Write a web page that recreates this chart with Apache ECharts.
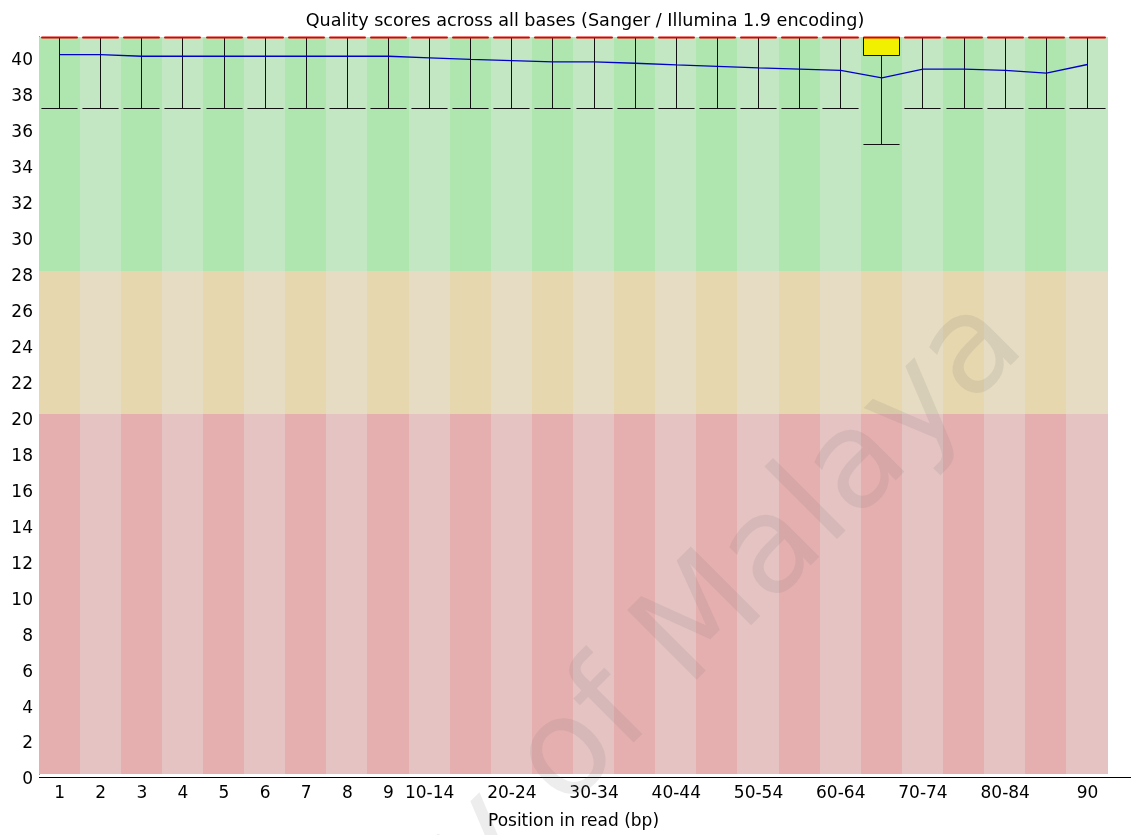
<!DOCTYPE html>
<html><head><meta charset="utf-8">
<script src="https://cdn.jsdelivr.net/npm/echarts@6/dist/echarts.min.js"></script>
<style>html,body{margin:0;padding:0;background:#fff}#c{width:1134px;height:835px}</style>
</head><body><div id="c"></div>
<script>
const categories = ['1','2','3','4','5','6','7','8','9','10-14','15-19','20-24','25-29','30-34','35-39','40-44','45-49','50-54','55-59','60-64','65-69','70-74','75-79','80-84','85-89','90'];
const lowerWhisker = [37,37,37,37,37,37,37,37,37,37,37,37,37,37,37,37,37,37,37,37,35,37,37,37,37,37];
const lowerQuartile = [41,41,41,41,41,41,41,41,41,41,41,41,41,41,41,41,41,41,41,41,40,41,41,41,41,41];
const medianQuality = [41,41,41,41,41,41,41,41,41,41,41,41,41,41,41,41,41,41,41,41,41,41,41,41,41,41];
const upperQuartile = [41,41,41,41,41,41,41,41,41,41,41,41,41,41,41,41,41,41,41,41,41,41,41,41,41,41];
const upperWhisker = [41,41,41,41,41,41,41,41,41,41,41,41,41,41,41,41,41,41,41,41,41,41,41,41,41,41];
const meanQuality = [40.02,40.02,39.93,39.93,39.93,39.93,39.93,39.93,39.93,39.84,39.75,39.69,39.62,39.62,39.54,39.45,39.37,39.28,39.21,39.14,38.73,39.21,39.21,39.14,38.99,39.47];
const zoneBounds = [0, 20, 28, 41];

const zoneColors = [
  ['#e6afaf', '#e6c3c3'],
  ['#e6d7af', '#e6dcc3'],
  ['#afe6af', '#c3e6c3']
];

const chart = echarts.init(document.getElementById('c'), null, {renderer: 'canvas'});
const FONT = 'DejaVu Sans';

function renderBackground(params, api) {
  const i = api.value(0);
  const w = api.size([1, 0])[0];
  const children = [];
  for (let z = 0; z < 3; z++) {
    const top = api.coord([i, zoneBounds[z + 1]]);
    const bot = api.coord([i, zoneBounds[z]]);
    const x0 = Math.floor(top[0] - w / 2);
    const x1 = (i === categories.length - 1) ? Math.round(top[0] + w / 2) : Math.ceil(top[0] + w / 2) + 1;
    const y0 = Math.round(top[1]), y1 = Math.round(bot[1]);
    children.push({
      type: 'rect',
      shape: {x: x0, y: y0, width: x1 - x0, height: y1 - y0},
      style: {fill: zoneColors[z][i % 2], stroke: null}
    });
  }
  return {type: 'group', children};
}

function crisp(v) { return Math.round(v - 0.5) + 0.5; }

function renderBox(params, api) {
  const i = api.value(0);
  const w = api.size([1, 0])[0];
  const half = (w - 5) / 2;
  const pLow = api.coord([i, api.value(1)]);
  const pQ1 = api.coord([i, api.value(2)]);
  const pMed = api.coord([i, api.value(3)]);
  const pQ3 = api.coord([i, api.value(4)]);
  const pUp = api.coord([i, api.value(5)]);
  const x = crisp(pLow[0]);
  const black = {stroke: '#111', lineWidth: 1};
  const children = [
    {type: 'line', shape: {x1: x, y1: crisp(pLow[1]), x2: x, y2: crisp(pQ1[1])}, style: black},
    {type: 'line', shape: {x1: x, y1: crisp(pQ3[1]), x2: x, y2: crisp(pUp[1])}, style: black},
    {type: 'line', shape: {x1: x - half, y1: crisp(pLow[1]), x2: x + half, y2: crisp(pLow[1])}, style: black},
    {type: 'line', shape: {x1: x - half, y1: crisp(pUp[1]), x2: x + half, y2: crisp(pUp[1])}, style: black}
  ];
  if (pQ1[1] - pQ3[1] > 1) {
    children.push({type: 'rect', shape: {x: crisp(x - half), y: crisp(pQ3[1]), width: Math.round(2 * half), height: Math.round(pQ1[1] - pQ3[1])},
      style: {fill: '#f0f000', stroke: '#111', lineWidth: 1}});
  }
  children.push({type: 'line', shape: {x1: x - half, y1: crisp(pMed[1]), x2: x + half, y2: crisp(pMed[1])}, style: {stroke: '#e00000', lineWidth: 2}});
  return {type: 'group', children};
}

const bgData = categories.map((c, i) => [i]);
const boxData = categories.map((c, i) => [i, lowerWhisker[i], lowerQuartile[i], medianQuality[i], upperQuartile[i], upperWhisker[i]]);

chart.setOption({
  animation: false,
  title: {
    text: 'Quality scores across all bases (Sanger / Illumina 1.9 encoding)',
    left: 580, top: 7, textAlign: 'center',
    textStyle: {fontSize: 17.6, fontWeight: 'normal', color: '#000', fontFamily: FONT}
  },
  grid: {left: 39, right: 26, top: 37, bottom: 58},
  xAxis: {
    type: 'category', data: categories, boundaryGap: true,
    axisLine: {show: false},
    axisTick: {show: false},
    axisLabel: {interval: (i) => i <= 9 || i % 2 === 1, color: '#000', fontSize: 17, fontFamily: FONT, margin: 11},
    name: 'Position in read (bp)', nameLocation: 'middle', nameGap: 39,
    nameTextStyle: {fontSize: 17, color: '#000', fontFamily: FONT}
  },
  yAxis: {
    type: 'value', min: 0, max: 41, interval: 2,
    splitLine: {show: false},
    axisLine: {show: true, lineStyle: {color: '#000', width: 1}},
    axisTick: {show: false},
    axisLabel: {showMaxLabel: false, color: '#000', fontSize: 17, fontFamily: FONT, margin: 6, verticalAlign: 'top', lineHeight: 12}
  },
  graphic: [
    {type: 'line', z: 50, shape: {x1: 39, y1: 777.5, x2: 1131, y2: 777.5}, style: {stroke: '#000', lineWidth: 1}},
    {type: 'text', z: 100, silent: true, x: 1051, y: 371, rotation: Math.PI / 4,
      style: {text: 'University of Malaya', font: '135px "DejaVu Sans"', fill: 'rgba(110,110,110,0.12)', align: 'right', verticalAlign: 'bottom'}}
  ],
  series: [
    {type: 'custom', renderItem: renderBackground, data: bgData, z: 1, silent: true},
    {type: 'custom', renderItem: renderBox, data: boxData, z: 3, silent: true},
    {type: 'line', data: meanQuality, symbol: 'none', z: 5, silent: true,
      lineStyle: {color: '#0000c8', width: 1.3}}
  ]
});
</script>
</body></html>
